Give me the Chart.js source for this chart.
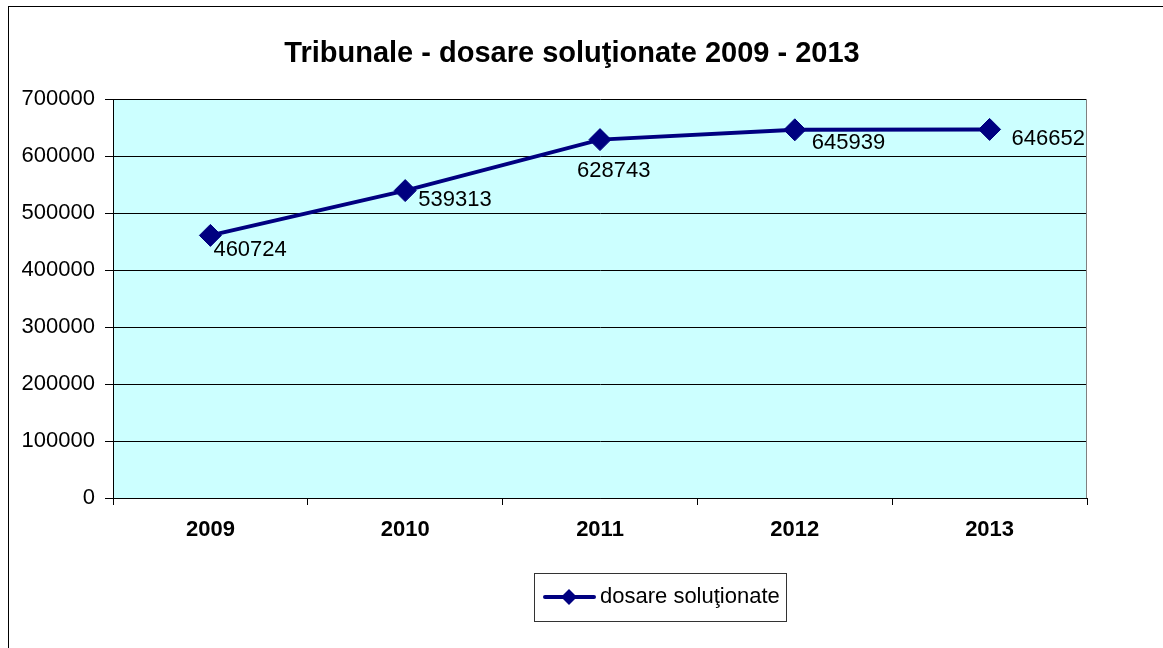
<!DOCTYPE html>
<html>
<head>
<meta charset="utf-8">
<script src="https://cdn.jsdelivr.net/npm/chart.js@4/dist/chart.umd.min.js"></script>
<style>
  html, body { margin: 0; padding: 0; background: #fff; }
  #wrap { width: 1163px; height: 648px; }
</style>
</head>
<body>
<div id="wrap"><canvas id="c" width="1163" height="648"></canvas></div>
<script>
const chartTitle = 'Tribunale - dosare soluţionate 2009 - 2013';
const seriesName = 'dosare soluţionate';
const years = ['2009', '2010', '2011', '2012', '2013'];
const solved = [460724, 539313, 628743, 645939, 646652];
const yMin = 0, yMax = 700000, yStep = 100000;

const FONT = '"Liberation Sans", Arial, Helvetica, sans-serif';
const NAVY = '#000080';
// label offsets relative to each point (dx to text left, dy to text middle)
const labelOffsets = [[3, 14.5], [13, 9.5], [-23, 31], [17, 13], [22, 10]];

const deco = {
  id: 'deco',
  beforeDraw(chart) {
    const { ctx, chartArea: a } = chart;
    ctx.save();
    ctx.fillStyle = '#fff';
    ctx.fillRect(0, 0, chart.width, chart.height);
    ctx.strokeStyle = '#000';
    ctx.lineWidth = 1;
    ctx.strokeRect(8.5, 6.5, chart.width + 20, chart.height + 20);
    ctx.fillStyle = '#CCFFFF';
    ctx.fillRect(a.left, a.top, a.right - a.left, a.bottom - a.top);
    ctx.restore();
  },
  afterDraw(chart) {
    const { ctx, chartArea: a } = chart;
    ctx.save();
    // right plot border
    ctx.strokeStyle = '#808080';
    ctx.lineWidth = 1;
    ctx.beginPath();
    ctx.moveTo(Math.round(a.right) - 0.5, a.top);
    ctx.lineTo(Math.round(a.right) - 0.5, a.bottom);
    ctx.stroke();
    // title
    ctx.fillStyle = '#000';
    ctx.font = 'bold 29px ' + FONT;
    ctx.textAlign = 'center';
    ctx.textBaseline = 'middle';
    ctx.fillText(chartTitle, 572, 54);
    // data labels
    ctx.font = '22px ' + FONT;
    ctx.textAlign = 'left';
    const meta = chart.getDatasetMeta(0);
    meta.data.forEach((pt, i) => {
      const o = labelOffsets[i];
      ctx.fillText(String(solved[i]), pt.x + o[0], pt.y + o[1]);
    });
    // legend
    ctx.strokeStyle = '#333';
    ctx.lineWidth = 1;
    ctx.strokeRect(534.5, 573.5, 252, 48);
    ctx.strokeStyle = NAVY;
    ctx.lineWidth = 4;
    ctx.lineCap = 'round';
    ctx.beginPath();
    ctx.moveTo(545, 597);
    ctx.lineTo(594, 597);
    ctx.stroke();
    ctx.fillStyle = NAVY;
    ctx.beginPath();
    ctx.moveTo(569, 589); ctx.lineTo(577, 597); ctx.lineTo(569, 605); ctx.lineTo(561, 597);
    ctx.closePath();
    ctx.fill();
    ctx.fillStyle = '#000';
    ctx.font = '22px ' + FONT;
    ctx.textAlign = 'left';
    ctx.textBaseline = 'middle';
    ctx.fillText(seriesName, 600, 597);
    ctx.restore();
  }
};

new Chart(document.getElementById('c'), {
  type: 'line',
  data: {
    labels: years,
    datasets: [{
      label: seriesName,
      data: solved,
      borderColor: NAVY,
      backgroundColor: NAVY,
      borderWidth: 4,
      tension: 0,
      pointStyle: 'rectRot',
      pointRadius: 11,
      pointBackgroundColor: NAVY,
      pointBorderColor: NAVY,
      pointBorderWidth: 1,
      clip: false
    }]
  },
  options: {
    responsive: false,
    animation: false,
    devicePixelRatio: 1,
    layout: { padding: { top: 99, right: 76, left: 0, bottom: 0 } },
    plugins: {
      legend: { display: false },
      title: { display: false },
      tooltip: { enabled: false }
    },
    scales: {
      x: {
        type: 'category',
        offset: true,
        afterFit(s) { s.height = 150; },
        grid: { offset: true, drawOnChartArea: false, drawTicks: true, tickLength: 7, color: '#000' },
        border: { display: true, color: '#000', width: 1 },
        ticks: { color: '#000', font: { family: FONT, size: 22, weight: 'bold' }, padding: 12, maxRotation: 0 }
      },
      y: {
        min: yMin,
        max: yMax,
        afterFit(s) { s.width = 113; },
        grid: { color: '#000', tickLength: 8, drawTicks: true },
        border: { display: true, color: '#000', width: 1 },
        ticks: {
          stepSize: yStep,
          color: '#000',
          padding: 10,
          font: { family: FONT, size: 22 },
          callback: v => String(v)
        }
      }
    }
  },
  plugins: [deco]
});
</script>
</body>
</html>
